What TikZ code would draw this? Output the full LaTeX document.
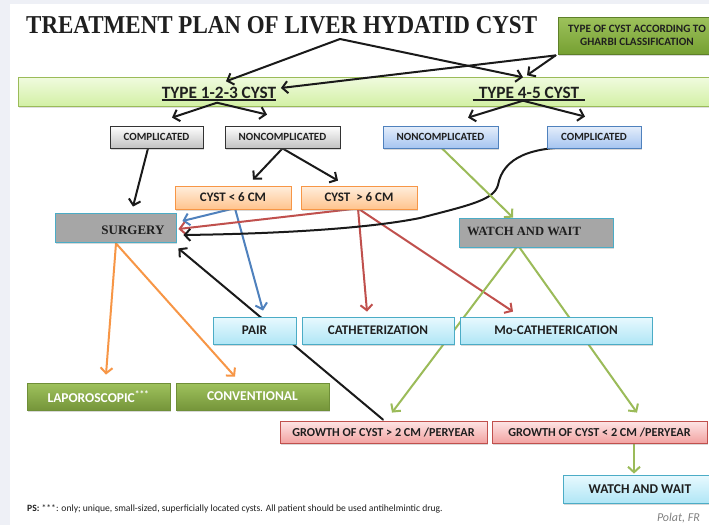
\documentclass[tikz,border=0pt]{standalone}
\usepackage{fontspec}
\setmainfont{Carlito}
\newfontfamily\tms{Liberation Serif}
\usetikzlibrary{arrows.meta,shadows}
\pgfdeclarelayer{bglayer}
\pgfdeclarelayer{arrowlayer}
\pgfsetlayers{bglayer,arrowlayer,main}
\definecolor{bgL}{HTML}{EEF0F6}
\definecolor{ghT}{HTML}{9DC25C}
\definecolor{ghB}{HTML}{76A032}
\definecolor{bandT}{HTML}{F0FBDE}
\definecolor{bandB}{HTML}{D2F0A4}
\definecolor{bandE}{HTML}{9BBB59}
\definecolor{greyT}{HTML}{FFFFFF}
\definecolor{greyB}{HTML}{C2C2C2}
\definecolor{blueT}{HTML}{E5EEFB}
\definecolor{blueB}{HTML}{A6C5F0}
\definecolor{blueE}{HTML}{4F81BD}
\definecolor{orT}{HTML}{FFEEDD}
\definecolor{orB}{HTML}{FFC48E}
\definecolor{orE}{HTML}{F79646}
\definecolor{surgF}{HTML}{A6A6A6}
\definecolor{tealE}{HTML}{4BACC6}
\definecolor{cyT}{HTML}{E8F9FE}
\definecolor{cyB}{HTML}{B0E6F6}
\definecolor{grT}{HTML}{9FC25D}
\definecolor{grB}{HTML}{75953A}
\definecolor{grE}{HTML}{6F8F38}
\definecolor{pkT}{HTML}{FDE5E5}
\definecolor{pkB}{HTML}{F2A3A2}
\definecolor{pkE}{HTML}{C0504D}
\definecolor{arBlack}{HTML}{1A1A1A}
\definecolor{arBlue}{HTML}{4F81BD}
\definecolor{arRed}{HTML}{C0504D}
\definecolor{arOr}{HTML}{F79646}
\definecolor{arGr}{HTML}{9BBB59}
\definecolor{txt}{HTML}{1F1F1F}
\begin{document}
\begin{tikzpicture}[x=1pt,y=-1pt,
  box/.style={rectangle, inner sep=0pt, align=center, text=txt, line width=0.8pt,
    drop shadow={opacity=0.3,shadow xshift=1.2pt,shadow yshift=-1.6pt}},
  greybox/.style={box, draw=black!80, top color=greyT, bottom color=greyB,
    minimum height=22pt, font=\bfseries\fontsize{11}{13}\selectfont},
  bluebox/.style={box, draw=blueE, top color=blueT, bottom color=blueB,
    minimum height=22pt, font=\bfseries\fontsize{11}{13}\selectfont},
  orbox/.style={box, draw=orE, top color=orT, bottom color=orB,
    minimum height=23pt, font=\bfseries\fontsize{13}{15}\selectfont},
  surgbox/.style={box, draw=tealE, fill=surgF, minimum height=29pt, text=txt},
  cybox/.style={box, draw=tealE, top color=cyT, bottom color=cyB,
    minimum height=27pt, font=\bfseries\fontsize{13.2}{15}\selectfont},
  grbox/.style={box, draw=grE, top color=grT, bottom color=grB, text=white,
    minimum height=27pt, font=\bfseries\fontsize{13.5}{15}\selectfont},
  pkbox/.style={box, draw=pkE, top color=pkT, bottom color=pkB,
    minimum height=22pt, font=\bfseries\fontsize{12.2}{14}\selectfont},
  ghbox/.style={box, draw=ghB!80!black, top color=ghT, bottom color=ghB,
    font=\bfseries\fontsize{11.2}{12.8}\selectfont},
  typetext/.style={inner xsep=0pt, inner ysep=8pt, text height=11pt, text depth=0pt,
    font=\bfseries\fontsize{17.3}{20}\selectfont, text=txt},
  conn/.style={line width=2pt, line cap=round, -{Straight Barb[length=5.5pt,width=12pt]}}
]
\useasboundingbox (0,0) rectangle (709,525);
\begin{pgfonlayer}{bglayer}
\fill[bgL] (0,0) rectangle (709,525);
\fill[white] (10,4) rectangle (709,525);
\node[rectangle, draw=bandE, line width=0.8pt, top color=bandT, bottom color=bandB,
  minimum width=694pt, minimum height=29pt, anchor=north west,
  drop shadow={opacity=0.25,shadow xshift=1pt,shadow yshift=-1.5pt}] (band) at (18,77) {};
\end{pgfonlayer}

% title
\node[anchor=base west, inner sep=0pt, text=txt,
  font=\tms\bfseries\fontsize{23}{26}\selectfont] (title) at (26,33)
  {\scalebox{1}[1.12]{TREATMENT PLAN OF LIVER HYDATID CYST}};
\coordinate (tsplit) at (340,39);

\node[ghbox, minimum width=158pt, minimum height=37pt] (gharbi) at (637,35.5)
  {TYPE OF CYST ACCORDING TO\\GHARBI CLASSIFICATION};

% type texts
\node[typetext] (t123) at (219,92.5) {TYPE 1-2-3 CYST};
\node[typetext] (t45) at (529,92.5) {TYPE 4-5 CYST};
\draw[line width=1.4pt, txt] ([yshift=-2pt]t123.base west) -- ([yshift=-2pt]t123.base east);
\draw[line width=1.4pt, txt] ([xshift=-6pt,yshift=-2pt]t45.base west) -- ([xshift=6pt,yshift=-2pt]t45.base east);

% row 2
\node[greybox, minimum width=93pt] (gcomp) at (156.5,137) {COMPLICATED};
\node[greybox, minimum width=115pt] (gnon) at (282.5,137) {NONCOMPLICATED};
\node[bluebox, minimum width=115pt] (bnon) at (440.5,137) {NONCOMPLICATED};
\node[bluebox, minimum width=94pt] (bcomp) at (594,137) {COMPLICATED};

% row 3
\node[orbox, minimum width=116pt] (lt6) at (233,197.5) {CYST < 6 CM};
\node[orbox, minimum width=116pt] (gt6) at (359,197.5) {CYST\ \ > 6 CM};

% surgery / watch
\node[surgbox, minimum width=121pt, text height=13pt, text depth=0pt,
  font=\tms\bfseries\fontsize{13}{15}\selectfont] (surgery) at (115.5,227.5)
  {\hspace*{35pt}SURGERY};
\node[surgbox, minimum width=154pt, text height=10pt, text depth=5pt,
  font=\tms\bfseries\fontsize{12.6}{15}\selectfont] (watch) at (536,232.5)
  {WATCH AND WAIT\hspace*{24pt}};

% row 4
\node[cybox, minimum width=83pt] (pair) at (254.5,330.5) {PAIR};
\node[cybox, minimum width=152pt] (cath) at (378,330.5) {CATHETERIZATION};
\node[cybox, minimum width=192pt] (mocath) at (556,330.5) {Mo-CATHETERICATION};

% row 5
\node[grbox, minimum width=143pt] (lapa) at (98.5,396.5) {LAPOROSCOPIC\textsuperscript{***}};
\node[grbox, minimum width=153pt] (conv) at (252.5,396.5) {CONVENTIONAL};

% row 6
\node[pkbox, minimum width=207pt] (g2) at (383.5,432) {GROWTH OF CYST > 2 CM /PERYEAR};
\node[pkbox, minimum width=215pt] (g3) at (599.5,432) {GROWTH OF CYST < 2 CM /PERYEAR};

\node[cybox, minimum width=149pt, minimum height=28pt, font=\bfseries\fontsize{13.5}{15}\selectfont] (watch2) at (637.5,489) {\hspace*{5pt}WATCH AND WAIT};

% footnotes
\node[anchor=base west, inner sep=0pt, text=txt, font=\fontsize{9.6}{11}\selectfont] (ps) at (27,511)
  {\textbf{PS:} ***: only; unique, small-sized, superficially located cysts. All patient should be used antihelmintic drug.};
\node[anchor=base east, inner sep=0pt, text=black!50, font=\itshape\fontsize{12}{14}\selectfont] (polat) at (700,521) {Polat, FR};

% connectors
\begin{pgfonlayer}{arrowlayer}
\draw[conn,arBlack] (tsplit) -- ([shift={(7,2.5)}]t123.north);
\draw[conn,arBlack] (tsplit) -- ([shift={(-6,-1.5)}]t45.north);
\draw[conn,arBlack] ([shift={(-2,1)}]gharbi.south west) -- ([shift={(-2,-3.5)}]t45.north);
\draw[conn,arBlack] ([shift={(-2,1)}]gharbi.south west) -- ([shift={(4.5,-4.5)}]t123.east);

\draw[conn,arBlack] ([shift={(-2,-3.5)}]t123.south) -- ([shift={(15.5,-8)}]gcomp.north);
\draw[conn,arBlack] ([shift={(-2,-3.5)}]t123.south) -- ([shift={(-15.5,-11)}]gnon.north);
\draw[conn,arBlack] ([shift={(-6,-5.5)}]t45.south) -- ([shift={(27.5,-8)}]bnon.north);
\draw[conn,arBlack] ([shift={(-6,-5.5)}]t45.south) -- ([shift={(-9,-9)}]bcomp.north);

\draw[conn,arBlack] ([shift={(-8.5,0)}]gcomp.south) -- ([shift={(17.5,-6)}]surgery.north);
\draw[conn,arBlack] (gnon.south) -- ([shift={(20,-6)}]lt6.north);
\draw[conn,arBlack] (gnon.south) -- ([shift={(-21,-5)}]gt6.north);

\draw[conn,arBlue] ([shift={(1,-1)}]lt6.south) -- ([shift={(6,-6.5)}]surgery.east);
\draw[conn,arBlue] ([shift={(2,-1)}]lt6.south) -- ([shift={(8.5,-6)}]pair.north);

\draw[conn,arRed] ([shift={(-1,-1)}]gt6.south) -- ([shift={(2,1.5)}]surgery.east);
\draw[conn,arRed] ([shift={(-1,-1)}]gt6.south) -- ([shift={(-11,-5)}]cath.north);
\draw[conn,arRed] ([shift={(-1,-1)}]gt6.south) -- ([shift={(-43,-5)}]mocath.north);

\draw[conn,arBlack] ([shift={(-14,-1)}]bcomp.south) .. controls (530,146) and (503,158) .. (498,185)
  .. controls (494,200) and (470,205) .. (420,218)
  .. controls (360,230) and (260,234) .. ([shift={(7,7.5)}]surgery.east);

\draw[conn,arGr] ([shift={(1.5,0)}]bnon.south) -- ([shift={(-23,0)}]watch.north);

\draw[conn,arBlack] ([shift={(-0.5,-1)}]g2.north) -- ([shift={(2,6)}]surgery.south east);

\draw[conn,arOr] ([shift={(0.5,1)}]surgery.south) -- ([shift={(7.5,-8)}]lapa.north);
\draw[conn,arOr] ([shift={(0.5,1)}]surgery.south) -- ([shift={(-17.5,-6)}]conv.north);

\draw[conn,arGr] ([shift={(-18,-2)}]watch.south) -- ([shift={(8.5,-8)}]g2.north);
\draw[conn,arGr] ([shift={(-18,-2)}]watch.south) -- ([shift={(37.5,-8)}]g3.north);
\draw[conn,arGr] ([shift={(34.5,0)}]g3.south) -- ([shift={(-3.5,-1)}]watch2.north);
\end{pgfonlayer}
\end{tikzpicture}
\end{document}
